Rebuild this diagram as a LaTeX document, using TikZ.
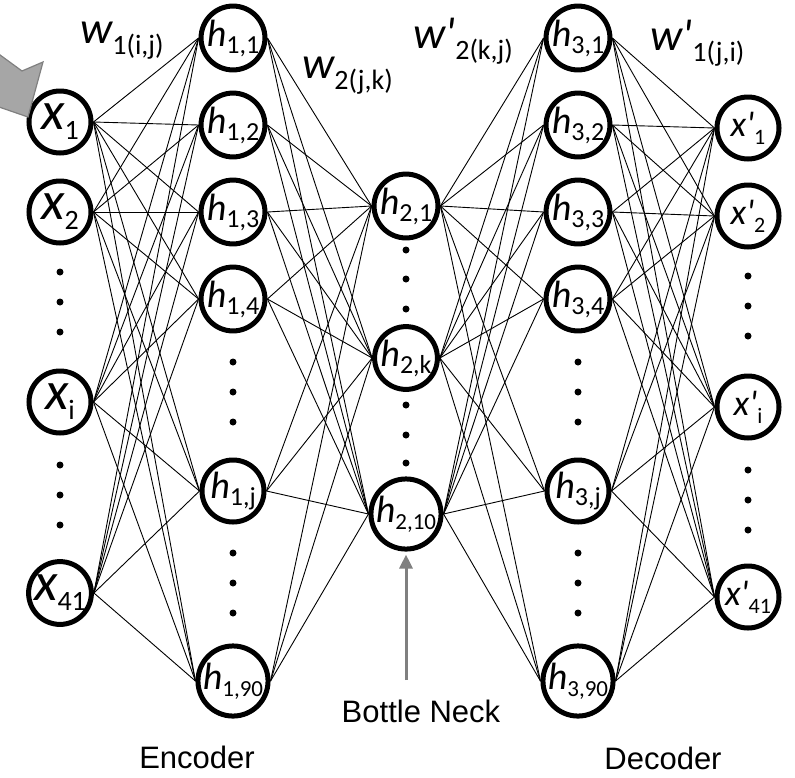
\documentclass[tikz,border=0pt]{standalone}
\usepackage{fontspec}
\setmainfont{Carlito}
\newfontfamily\arialfont{Liberation Sans}
\usetikzlibrary{arrows.meta}

% letter, index, letter size, index size, drop of the index
\newcommand{\unitlab}[5]{{\fontsize{#3}{#3}\selectfont\itshape #1}\raisebox{-#5}{\fontsize{#4}{#4}\selectfont #2}}
\newcommand{\primed}{\textquotesingle}

\definecolor{arrowgrey}{RGB}{128,128,128}
\definecolor{blockgrey}{RGB}{166,166,166}

\tikzset{
  unit/.style={circle, draw, line width=5pt, minimum size=62pt, inner sep=0pt},
  link/.style={line width=0.9pt},
  vdot/.style={circle, fill, inner sep=0pt, minimum size=7pt},
  caption/.style={font=\arialfont\fontsize{31}{31}\selectfont, inner sep=0pt},
  weight/.style={anchor=base west, inner sep=0pt},
}

\begin{document}
\begin{tikzpicture}[x=1pt,y=-1pt]
  \useasboundingbox (0,0) rectangle (795,777);

  % input layer
  \node[unit] (x1)  at (60,122) {\unitlab{x}{1}{54}{28}{10pt}};
  \node[unit] (x2)  at (60,212) {\unitlab{x}{2}{54}{28}{10pt}};
  \node[unit] (xi)  at (60,402) {\unitlab{x}{i}{54}{28}{10pt}};
  \node[unit] (x41) at (60,593) {\unitlab{x}{41}{54}{28}{10pt}};

  % first hidden layer
  \node[unit] (h11)  at (233,38)  {\unitlab{h}{1,1}{38}{26}{7pt}};
  \node[unit] (h12)  at (233,125) {\unitlab{h}{1,2}{38}{26}{7pt}};
  \node[unit] (h13)  at (233,212) {\unitlab{h}{1,3}{38}{26}{7pt}};
  \node[unit] (h14)  at (233,299) {\unitlab{h}{1,4}{38}{26}{7pt}};
  \node[unit] (h1j)  at (233,491) {\unitlab{h}{1,j}{38}{26}{7pt}};
  \node[unit] (h190) at (233,681) {\unitlab{h}{1,90}{38}{23}{7pt}};

  % bottle neck layer
  \node[unit] (h21)  at (406,206) {\unitlab{h}{2,1}{38}{26}{7pt}};
  \node[unit] (h2k)  at (406,358) {\unitlab{h}{2,k}{38}{26}{7pt}};
  \node[unit] (h210) at (406,514) {\unitlab{h}{2,10}{38}{23}{7pt}};

  % third hidden layer
  \node[unit] (h31)  at (578,38)  {\unitlab{h}{3,1}{38}{26}{7pt}};
  \node[unit] (h32)  at (578,125) {\unitlab{h}{3,2}{38}{26}{7pt}};
  \node[unit] (h33)  at (578,212) {\unitlab{h}{3,3}{38}{26}{7pt}};
  \node[unit] (h34)  at (578,299) {\unitlab{h}{3,4}{38}{26}{7pt}};
  \node[unit] (h3j)  at (578,491) {\unitlab{h}{3,j}{38}{26}{7pt}};
  \node[unit] (h390) at (578,681) {\unitlab{h}{3,90}{38}{23}{7pt}};

  % output layer
  \node[unit] (y1)  at (748,128) {\unitlab{x\primed}{1}{36}{22}{8pt}};
  \node[unit] (y2)  at (748,216) {\unitlab{x\primed}{2}{36}{22}{8pt}};
  \node[unit] (yi)  at (748,407) {\unitlab{x\primed}{i}{36}{22}{8pt}};
  \node[unit] (y41) at (748,597) {\unitlab{x\primed}{41}{36}{22}{8pt}};

  % dots
  \foreach \y in {272,302,332,465,495,525}
    \node[vdot] at (60,\y) {};
  \foreach \y in {276,306,336,470,500,530}
    \node[vdot] at (748,\y) {};
  \foreach \y in {362,392,422,553,583,613} {
    \node[vdot] at (233,\y) {};
    \node[vdot] at (578,\y) {};
  }
  \foreach \y in {250,279,309,405,435,463}
    \node[vdot] at (406,\y) {};

  % weights
  \foreach \a in {x1,x2,xi,x41}
    \foreach \b in {h11,h12,h13,h14,h1j,h190}
      \draw[link] (\a.east) -- (\b.west);
  \foreach \a in {h11,h12,h13,h14,h1j,h190}
    \foreach \b in {h21,h2k,h210}
      \draw[link] (\a.east) -- (\b.west);
  \foreach \a in {h21,h2k,h210}
    \foreach \b in {h31,h32,h33,h34,h3j,h390}
      \draw[link] (\a.east) -- (\b.west);
  \foreach \a in {h31,h32,h33,h34,h3j,h390}
    \foreach \b in {y1,y2,yi,y41}
      \draw[link] (\a.east) -- (\b.west);

  % weight labels
  \node[weight] (w1)  at (80,43)  {\unitlab{w}{1(i,j)}{45}{28}{11pt}};
  \node[weight] (w2)  at (302,78) {\unitlab{w}{2(j,k)}{45}{28}{11pt}};
  \node[weight] (w2p) at (413,48) {\unitlab{w\primed}{2(k,j)}{45}{28}{11pt}};
  \node[weight] (w1p) at (650,50) {\unitlab{w\primed}{1(j,i)}{45}{28}{11pt}};

  % incoming block arrow
  \begin{scope}
    \clip (0,0) rectangle (795,777);
    \filldraw[fill=blockgrey, draw=arrowgrey, line width=1.2pt]
      (-30,33) -- (22,71) -- (43,62) -- (28,117) -- (-30,97) -- cycle;
  \end{scope}

  % bottle neck marker
  \coordinate (neck) at (406,680);
  \draw[arrowgrey, line width=3pt, -{Triangle[length=14pt,width=13pt]}]
    (neck) -- ([yshift=-3pt]h210.south);
  \node[caption, anchor=base] (bn)  at (421,722) {Bottle Neck};
  \node[caption, anchor=base] (enc) at (197,768) {Encoder};
  \node[caption, anchor=base] (dec) at (663,769) {Decoder};
\end{tikzpicture}
\end{document}
